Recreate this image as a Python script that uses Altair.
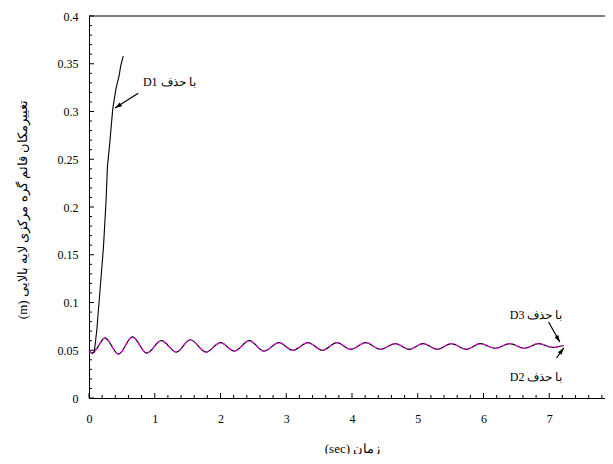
import math
import altair as alt
import pandas as pd

# ---- data ----
t_d1 = [0.00, 0.05, 0.08, 0.12, 0.17, 0.22, 0.26, 0.28, 0.32, 0.36, 0.41, 0.46, 0.48, 0.52]
v_d1 = [0.049, 0.047, 0.048, 0.072, 0.115, 0.158, 0.207, 0.242, 0.270, 0.302, 0.324, 0.338, 0.347, 0.358]

t_osc = [0.00, 0.05, 0.12, 0.24, 0.45, 0.66, 0.88, 1.10, 1.33, 1.54, 1.78, 2.00, 2.21, 2.44,
         2.66, 2.89, 3.10, 3.33, 3.55, 3.77, 3.98, 4.21, 4.43, 4.66, 4.87, 5.08, 5.30, 5.51,
         5.74, 5.95, 6.18, 6.40, 6.62, 6.84, 7.05, 7.22]
v_d2 = [0.049, 0.047, 0.052, 0.063, 0.046, 0.064, 0.047, 0.060, 0.048, 0.061, 0.048, 0.058,
        0.049, 0.060, 0.049, 0.058, 0.050, 0.058, 0.050, 0.058, 0.051, 0.058, 0.051, 0.057,
        0.051, 0.057, 0.051, 0.057, 0.051, 0.057, 0.052, 0.057, 0.052, 0.057, 0.053, 0.055]
v_d3 = [0.049, 0.047, 0.052, 0.063, 0.046, 0.064, 0.047, 0.060, 0.048, 0.061, 0.048, 0.058,
        0.049, 0.060, 0.049, 0.058, 0.050, 0.058, 0.050, 0.058, 0.051, 0.058, 0.051, 0.057,
        0.051, 0.057, 0.051, 0.057, 0.051, 0.057, 0.052, 0.057, 0.052, 0.057, 0.053, 0.055]

y_major = [0, 0.05, 0.1, 0.15, 0.2, 0.25, 0.3, 0.35, 0.4]
x_major = [0, 1, 2, 3, 4, 5, 6, 7, 8]
y_minor = [round(i * 0.01, 2) for i in range(41) if i % 5 != 0]
x_minor = [round(i * 0.2, 1) for i in range(41) if i % 5 != 0]

ann_labels = ["D1 با حذف", "D3 با حذف", "D2 با حذف"]
ann_t = [0.82, 6.40, 6.40]
ann_v = [0.331, 0.0869, 0.022]
arr_t_from = [0.748, 6.99, 7.11]
arr_v_from = [0.319, 0.0796, 0.0419]
arr_t_to = [0.397, 7.16, 7.22]
arr_v_to = [0.3036, 0.0586, 0.0524]

x_title = "(sec) زمان"
y_title = "(m) تغییرمکان قائم گره مرکزی لایه بالایی"

W, H = 516, 382          # visible plot area (page is 613 wide)
XR = 526                 # pixel length of the 0..8 range (runs past the page edge)
FONT = "Liberation Serif, Times New Roman, serif"

d1 = pd.DataFrame({"t": t_d1, "v": v_d1})
osc = pd.DataFrame({"t": t_osc, "d2": v_d2, "d3": v_d3})
ann = pd.DataFrame({"t": ann_t, "v": ann_v, "label": ann_labels})
arr = pd.DataFrame({"t": arr_t_from, "v": arr_v_from, "t2": arr_t_to, "v2": arr_v_to})
pxt, pxv = XR / 8.0, H / 0.4
arr["angle"] = [
    (math.degrees(math.atan2((b - a) * pxt, (d - c) * pxv)) + 360) % 360
    for a, b, c, d in zip(arr_t_from, arr_t_to, arr_v_from, arr_v_to)
]

xs = alt.Scale(domain=[0, 8], range=[0, XR], nice=False)
ys = alt.Scale(domain=[0, 0.4], nice=False)

x_axis = alt.Axis(
    values=x_major, format="~g", ticks=False, labelOverlap=False,
    labelPadding=15, labelFontSize=12, labelFont=FONT, labelColor="black",
    title=x_title, titleFont=FONT, titleFontSize=13, titleFontWeight="normal",
    titleY=50, titleBaseline="middle", titleColor="black",
    grid=False, domainColor="black", labelFlush=False,
)
y_axis = alt.Axis(
    values=y_major, format="~g", ticks=False, labelOverlap=False,
    labelPadding=11, labelFontSize=12, labelFont=FONT, labelColor="black",
    title=y_title, titleFont=FONT, titleFontSize=13, titleFontWeight="normal",
    titleX=-67, titleY=193, titleAngle=270, titleAlign="center", titleBaseline="middle",
    titleColor="black",
    grid=False, domainColor="black", labelFlush=False,
)

base_x = alt.X("t:Q", scale=xs, axis=x_axis)
base_y = alt.Y("v:Q", scale=ys, axis=y_axis)

line_d1 = alt.Chart(d1).mark_line(color="black", strokeWidth=1.1, clip=True).encode(
    x=base_x, y=base_y)
line_d2 = alt.Chart(osc).mark_line(color="black", strokeWidth=1.2, interpolate="monotone").encode(
    x=alt.X("t:Q", scale=xs), y=alt.Y("d2:Q", scale=ys))
line_d3 = alt.Chart(osc).mark_line(color="#ff00ff", strokeWidth=1.2, strokeDash=[4, 3],
                                   interpolate="monotone").encode(
    x=alt.X("t:Q", scale=xs), y=alt.Y("d3:Q", scale=ys))

# frame top line
top_line = alt.Chart(pd.DataFrame({"v": [0.4]})).mark_rule(color="black", strokeWidth=1).encode(
    y=alt.Y("v:Q", scale=ys), x=alt.value(0), x2=alt.value(XR))

# inward tick marks
yt_major = alt.Chart(pd.DataFrame({"v": y_major})).mark_rule(color="black", strokeWidth=1).encode(
    y=alt.Y("v:Q", scale=ys), x=alt.value(0), x2=alt.value(5))
yt_minor = alt.Chart(pd.DataFrame({"v": y_minor})).mark_rule(color="black", strokeWidth=1).encode(
    y=alt.Y("v:Q", scale=ys), x=alt.value(0), x2=alt.value(3))
xt_major = alt.Chart(pd.DataFrame({"t": x_major})).mark_rule(color="black", strokeWidth=1).encode(
    x=alt.X("t:Q", scale=xs), y=alt.value(H), y2=alt.value(H - 5))
xt_minor = alt.Chart(pd.DataFrame({"t": x_minor})).mark_rule(color="black", strokeWidth=1).encode(
    x=alt.X("t:Q", scale=xs), y=alt.value(H), y2=alt.value(H - 3))

texts = alt.Chart(ann).mark_text(align="left", baseline="middle", font=FONT, fontSize=12,
                                 color="black").encode(
    x=alt.X("t:Q", scale=xs), y=alt.Y("v:Q", scale=ys), text="label:N")
shafts = alt.Chart(arr).mark_rule(color="black", strokeWidth=1.2).encode(
    x=alt.X("t:Q", scale=xs), y=alt.Y("v:Q", scale=ys), x2="t2:Q", y2="v2:Q")
heads = alt.Chart(arr).mark_point(
    shape="M0,0L0.42,1.3L-0.42,1.3Z", filled=True, color="black", size=110, opacity=1
).encode(x=alt.X("t2:Q", scale=xs), y=alt.Y("v2:Q", scale=ys), angle=alt.Angle("angle:Q", scale=None))

chart = alt.layer(line_d1, line_d2, line_d3, top_line, yt_major, yt_minor, xt_major, xt_minor,
                  shafts, heads, texts).properties(
    width=W, height=H,
    autosize="none",
    padding={"left": 81, "top": 8, "right": 0, "bottom": 56},
).configure_view(stroke="transparent").configure_axis(domainWidth=1)

chart.save("out.html", embed_options={"renderer": "svg", "actions": False})
